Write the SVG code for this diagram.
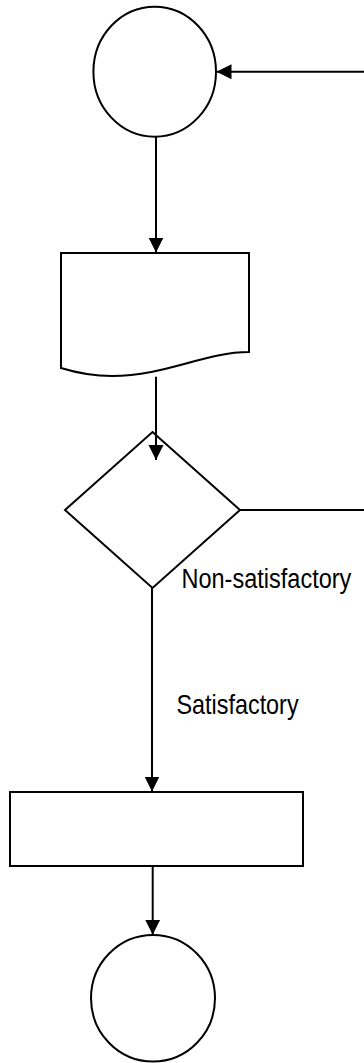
<svg xmlns="http://www.w3.org/2000/svg" width="364" height="1063" viewBox="0 0 364 1063">
  <style>
    .shape { fill: #ffffff; stroke: #000000; stroke-width: 2; }
    .edge { fill: none; stroke: #000000; stroke-width: 2; }
    .label { font-family: "Liberation Sans", Arial, sans-serif; font-size: 28px; fill: #000000; }
  </style>
  <defs>
    <marker id="arrow" markerUnits="userSpaceOnUse" markerWidth="16" markerHeight="16" viewBox="0 0 16 16" refX="15" refY="8" orient="auto">
      <path d="M0,0.5 L15,8 L0,15.5 Z" fill="#000000"/>
    </marker>
  </defs>
  <rect width="364" height="1063" fill="#ffffff"/>

  <g id="start">
    <ellipse class="shape" cx="154.7" cy="71.7" rx="61.3" ry="65"/>
  </g>

  <g id="document">
    <path class="shape" d="M61,253 H249 V352 C205,352 165,376 112,376 C90,376 74,372 61,368 Z"/>
  </g>

  <g id="decision">
    <path class="shape" d="M152.5,432 L240,510 L152.5,588 L65,510 Z"/>
  </g>

  <g id="process">
    <rect class="shape" x="10" y="792" width="293" height="74"/>
  </g>

  <g id="end">
    <ellipse class="shape" cx="153" cy="998.3" rx="62" ry="63.3"/>
  </g>

  <g id="connectors">
    <path class="edge" d="M364,71.7 H216.5" marker-end="url(#arrow)"/>
    <path class="edge" d="M156,136.7 V252.5" marker-end="url(#arrow)"/>
    <path class="edge" d="M156,376.7 V460" marker-end="url(#arrow)"/>
    <path class="edge" d="M240,510 H364"/>
    <path class="edge" d="M152,588 V791.5" marker-end="url(#arrow)"/>
    <path class="edge" d="M152.7,866 V934.8" marker-end="url(#arrow)"/>
  </g>

  <!-- condensed labels: horizontal squeeze of a regular sans face -->
  <g id="labels">
    <text class="label" transform="translate(181.5,588.3) scale(0.84,1)" x="0" y="0">Non-satisfactory</text>
    <text class="label" transform="translate(176.5,714.3) scale(0.835,1)" x="0" y="0">Satisfactory</text>
  </g>
</svg>
